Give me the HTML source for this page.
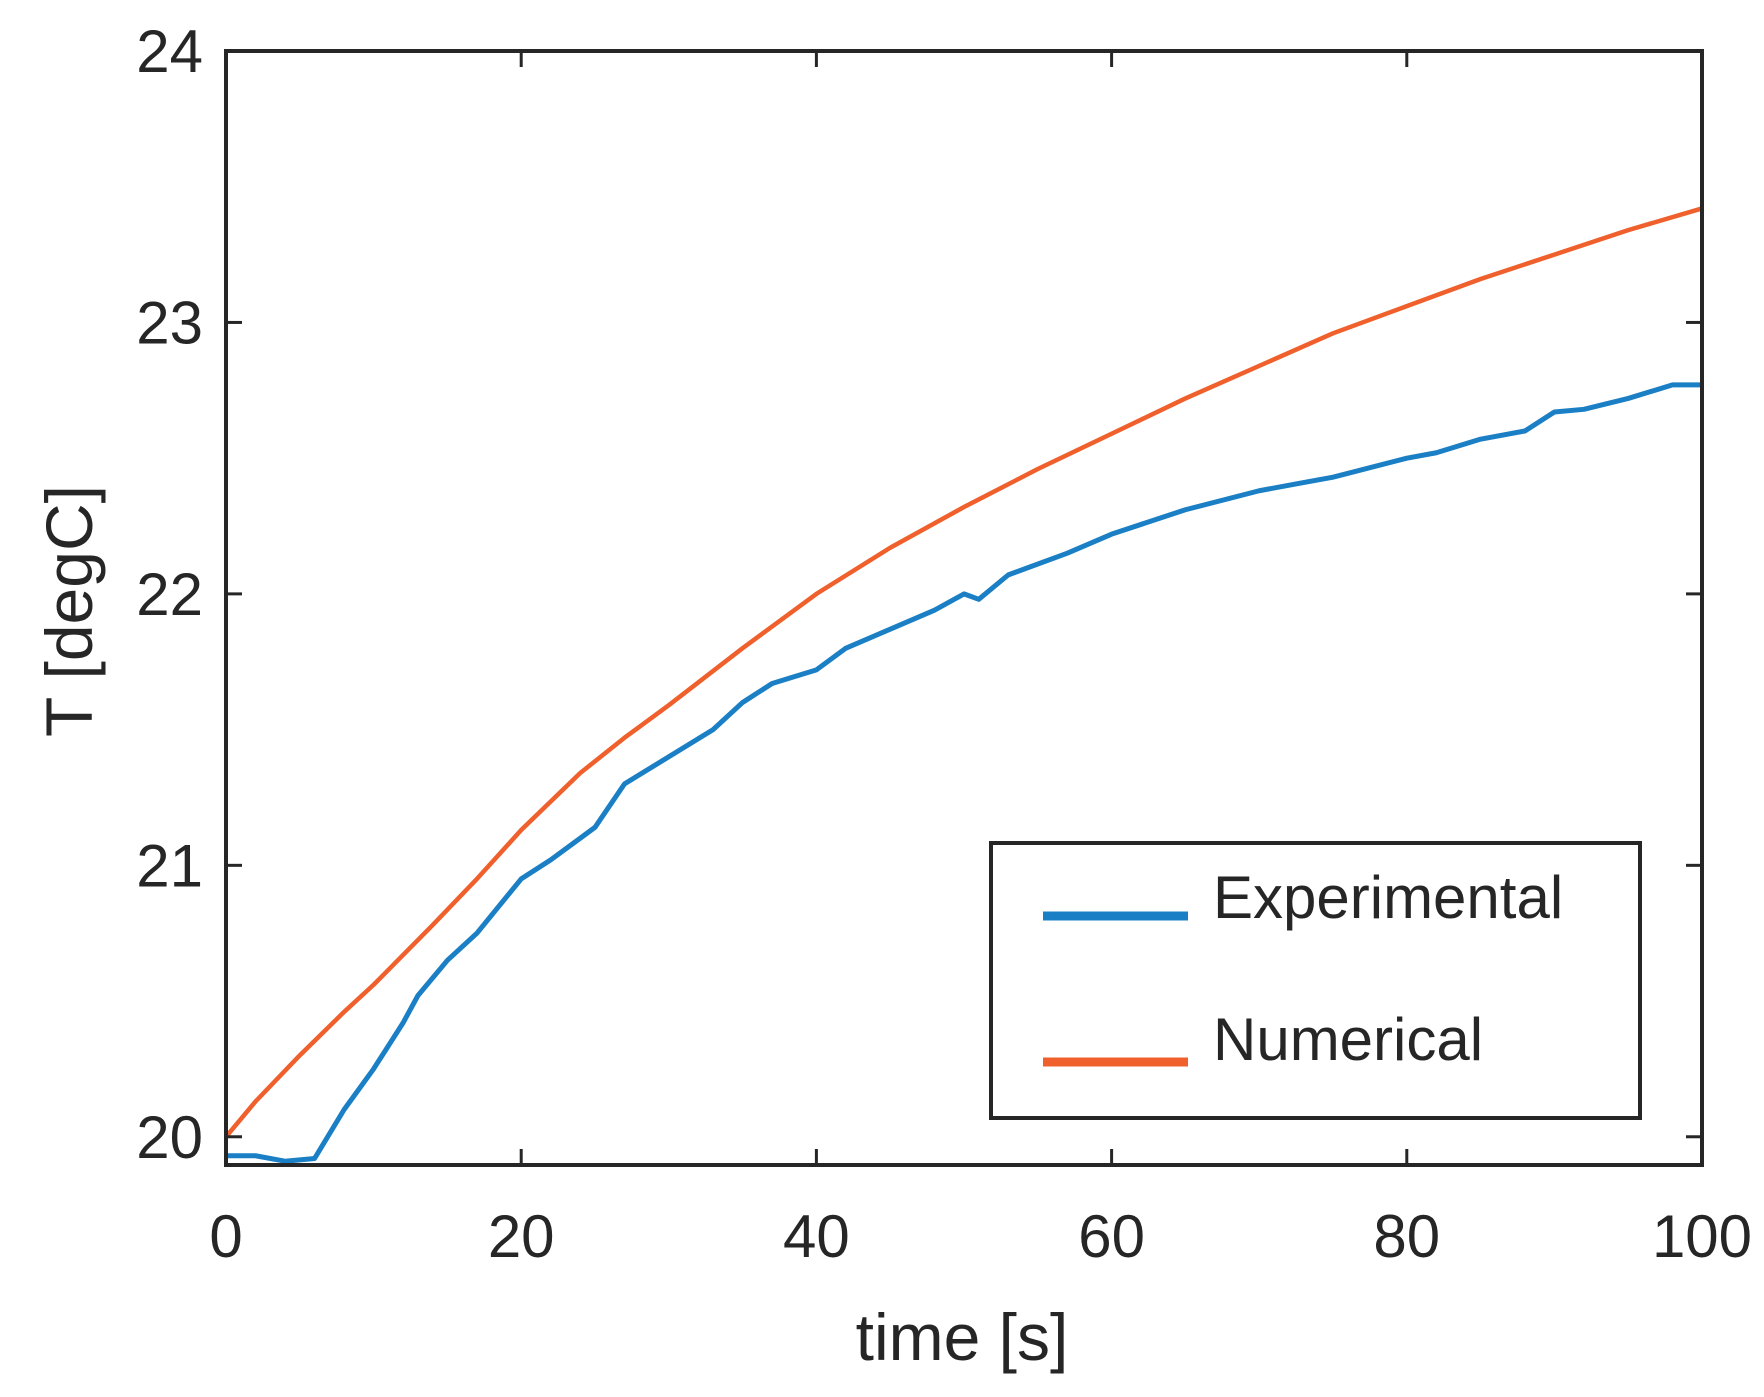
<!DOCTYPE html>
<html><head><meta charset="utf-8"><style>
html,body{margin:0;padding:0;background:#fff;}
svg{display:block;font-family:"Liberation Sans",sans-serif;}
</style></head><body>
<svg id="chart" width="1764" height="1397" viewBox="0 0 1764 1397">
<g id="plot"></g>
</svg>
<script>
const xTicks=[0,20,40,60,80,100];
const yTicks=[20,21,22,23,24];
const numT=[0,2,5,8,10,12,14,17,20,24,27,30,35,40,45,50,55,60,65,70,75,80,85,90,95,100];
const numV=[20.0,20.13,20.3,20.46,20.56,20.67,20.78,20.95,21.13,21.34,21.47,21.59,21.8,22.0,22.17,22.32,22.46,22.59,22.72,22.84,22.96,23.06,23.16,23.25,23.34,23.42];
const expT=[0,2,4,6,8,10,12,13,15,17,20,22,24,25,27,30,33,35,37,40,42,45,48,50,51,53,57,60,65,70,73,75,80,82,85,88,90,92,95,98,100];
const expV=[19.93,19.93,19.91,19.92,20.1,20.25,20.42,20.52,20.65,20.75,20.95,21.02,21.1,21.14,21.3,21.4,21.5,21.6,21.67,21.72,21.8,21.87,21.94,22.0,21.98,22.07,22.15,22.22,22.31,22.38,22.41,22.43,22.5,22.52,22.57,22.6,22.67,22.68,22.72,22.77,22.77];
const L=226,R=1702,T=51,B=1165,yMin=19.896,yMax=24;
const sx=v=>L+(v-0)/(100-0)*(R-L);
const sy=v=>B-(v-yMin)/(yMax-yMin)*(B-T);
const NS="http://www.w3.org/2000/svg";
const g=document.getElementById('plot');
function mk(tag,attrs,parent){const e=document.createElementNS(NS,tag);for(const k in attrs)e.setAttribute(k,attrs[k]);(parent||g).appendChild(e);return e;}
let e=mk('polyline',{points:numT.map((t,i)=>sx(t)+','+sy(numV[i])).join(' '),fill:'none',stroke:'#f0602c','stroke-width':4.5,'stroke-linejoin':'round'});


e=mk('polyline',{points:expT.map((t,i)=>sx(t)+','+sy(expV[i])).join(' '),fill:'none',stroke:'#1a7fc4','stroke-width':5,'stroke-linejoin':'round'});


e=mk('rect',{x:L,y:T,width:R-L,height:B-T,fill:'none',stroke:'#262626','stroke-width':4});


xTicks.forEach(v=>{
  const x=sx(v);
  mk('line',{x1:x,x2:x,y1:B,y2:B-16,stroke:'#262626','stroke-width':3});
  mk('line',{x1:x,x2:x,y1:T,y2:T+16,stroke:'#262626','stroke-width':3});
  const t=mk('text',{x:x,y:1257,'text-anchor':'middle','font-size':60,fill:'#262626'});
  t.textContent=v;
  
  
});
yTicks.forEach(v=>{
  const y=sy(v);
  mk('line',{x1:L,x2:L+16,y1:y,y2:y,stroke:'#262626','stroke-width':3});
  mk('line',{x1:R,x2:R-16,y1:y,y2:y,stroke:'#262626','stroke-width':3});
  const t=mk('text',{x:203,y:y+21,'text-anchor':'end','font-size':60,fill:'#262626'});
  t.textContent=v;
  
  
});
</script>
<svg style="position:absolute;left:0;top:0" width="1764" height="1397">
<text x="962" y="1360" text-anchor="middle" font-size="66" fill="#262626" font-family="Liberation Sans,sans-serif">time [s]</text>
<text x="0" y="0" transform="translate(92,611) rotate(-90)" text-anchor="middle" font-size="66" fill="#262626" font-family="Liberation Sans,sans-serif">T [degC]</text>
<g>
<rect x="991" y="843" width="649" height="275" fill="#fff" stroke="#262626" stroke-width="4"/>
<line x1="1043" y1="916" x2="1188" y2="916" stroke="#1a7fc4" stroke-width="9"/>
<text x="1213" y="918" font-size="60" fill="#262626" font-family="Liberation Sans,sans-serif">Experimental</text>
<line x1="1043" y1="1062" x2="1188" y2="1062" stroke="#f0602c" stroke-width="9"/>
<text x="1213" y="1060" font-size="60" fill="#262626" font-family="Liberation Sans,sans-serif">Numerical</text>
</g>
</svg>
</body></html>
